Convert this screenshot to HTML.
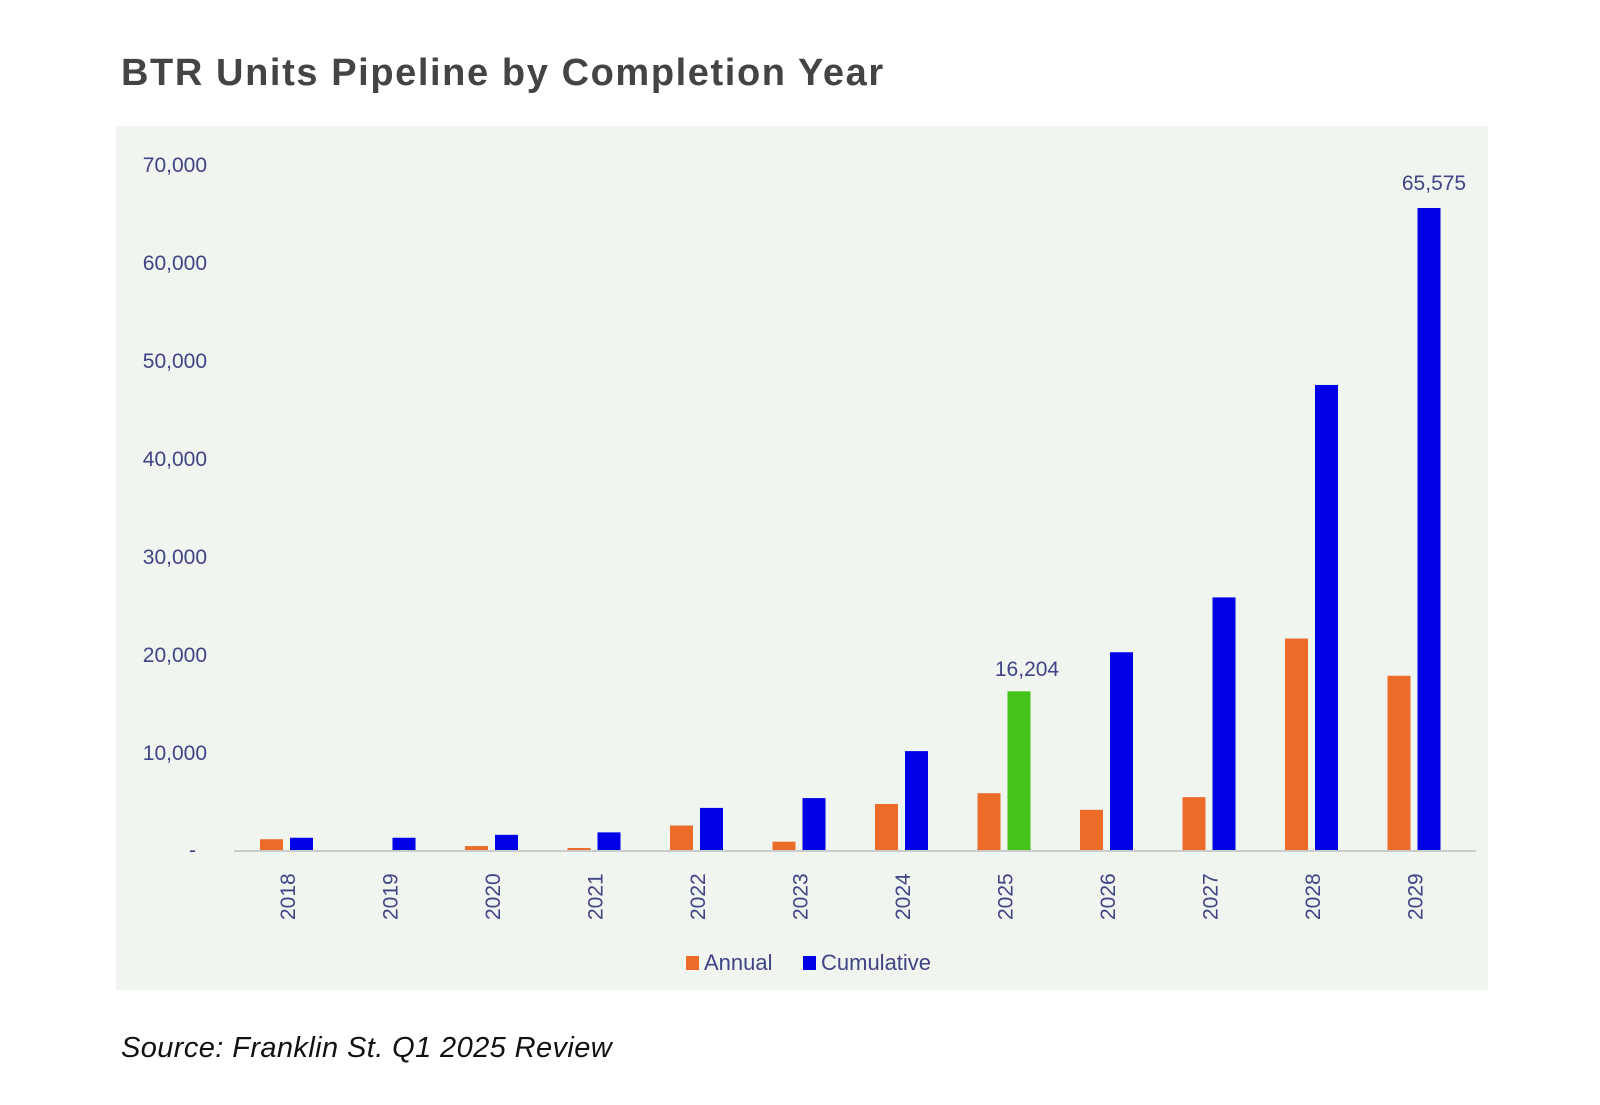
<!DOCTYPE html>
<html><head><meta charset="utf-8"><style>
body{margin:0;background:#fff;width:1600px;height:1100px;overflow:hidden;font-family:"Liberation Sans",sans-serif}
</style></head><body>
<svg width="1600" height="1100" xmlns="http://www.w3.org/2000/svg" font-family="Liberation Sans, sans-serif">
<text x="121" y="85" font-size="38" font-weight="bold" fill="#444" letter-spacing="1.6">BTR Units Pipeline by Completion Year</text>
<rect x="116" y="126" width="1372" height="864" fill="#f0f5ef"/>
<g fill="#3f4486" font-size="21" text-anchor="end">
<text x="207" y="172">70,000</text>
<text x="207" y="270">60,000</text>
<text x="207" y="368">50,000</text>
<text x="207" y="466">40,000</text>
<text x="207" y="564">30,000</text>
<text x="207" y="662">20,000</text>
<text x="207" y="760">10,000</text>
<text x="196" y="857">-</text>
</g>
<line x1="234" y1="851" x2="1476" y2="851" stroke="#c8cccc" stroke-width="2"/>
<g id="bars"></g>
<text x="1027" y="676" font-size="21" fill="#3f4486" text-anchor="middle">16,204</text>
<text x="1434" y="190" font-size="21" fill="#3f4486" text-anchor="middle">65,575</text>
<g fill="#3f4486" font-size="21" id="years"></g>
<rect x="686" y="956" width="13" height="14" fill="#ec6b28"/>
<text x="704" y="970" font-size="22" fill="#3f4486">Annual</text>
<rect x="803" y="956" width="13" height="14" fill="#0000e6"/>
<text x="821" y="970" font-size="22" fill="#3f4486">Cumulative</text>
<text x="121" y="1057" font-size="29" font-style="italic" fill="#111" letter-spacing="0.4">Source: Franklin St. Q1 2025 Review</text>
</svg>
<script>
var o=[1100,0,400,200,2500,850,4700,5800,4100,5400,21600,17800];
var b=[1250,1250,1550,1800,4300,5300,10100,16204,20200,25800,47500,65575];
var s=642/65575,base=850,g=document.getElementById('bars'),y=document.getElementById('years'),h='',t='';
for(var i=0;i<12;i++){var bl=290+i*102.5,ol=bl-30;
if(o[i]>0)h+='<rect x="'+ol+'" y="'+(base-o[i]*s)+'" width="23" height="'+(o[i]*s)+'" fill="#ec6b28"/>';
h+='<rect x="'+bl+'" y="'+(base-b[i]*s)+'" width="23" height="'+(b[i]*s)+'" fill="'+(i==7?'#44c41a':'#0000e6')+'"/>';
var cx=bl-2;t+='<text transform="translate('+(cx+7)+',920) rotate(-90)">'+(2018+i)+'</text>';}
g.innerHTML=h;y.innerHTML=t;
</script>
</body></html>
